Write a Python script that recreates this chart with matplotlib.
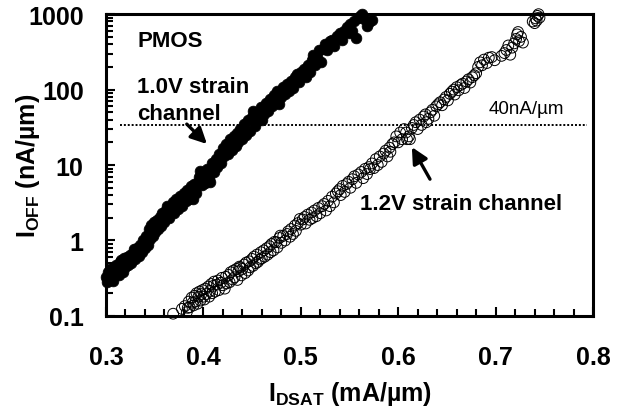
import matplotlib as mpl
import matplotlib.pyplot as plt
from matplotlib.ticker import MultipleLocator, FixedLocator, FixedFormatter, LogLocator, NullFormatter

mpl.rcParams['font.family'] = ['Liberation Sans', 'DejaVu Sans']
mpl.rcParams['mathtext.fontset'] = 'custom'
mpl.rcParams['mathtext.rm'] = 'Liberation Sans'
mpl.rcParams['mathtext.bf'] = 'Liberation Sans:bold'
mpl.rcParams['axes.linewidth'] = 2.2

# 1.0V strain channel (filled), IDSAT in mA/um, IOFF in nA/um
x10 = [0.300, 0.301, 0.302, 0.303, 0.304, 0.305, 0.306, 0.307, 0.308, 0.309,
       0.310, 0.311, 0.312, 0.313, 0.314, 0.315, 0.316, 0.317, 0.318, 0.319,
       0.320, 0.322, 0.323, 0.325, 0.326, 0.328, 0.329, 0.330, 0.332, 0.334,
       0.335, 0.337, 0.338, 0.340, 0.341, 0.343, 0.344, 0.345, 0.346, 0.348,
       0.349, 0.350, 0.352, 0.353, 0.355, 0.357, 0.358, 0.360, 0.362, 0.363,
       0.365, 0.367, 0.369, 0.370, 0.372, 0.374, 0.376, 0.378, 0.380, 0.382,
       0.383, 0.385, 0.387, 0.389, 0.390, 0.392, 0.394, 0.396, 0.397, 0.399,
       0.400, 0.402, 0.404, 0.406, 0.407, 0.409, 0.411, 0.413, 0.414, 0.416,
       0.418, 0.420, 0.421, 0.423, 0.425, 0.427, 0.429, 0.431, 0.433, 0.435,
       0.436, 0.438, 0.440, 0.442, 0.444, 0.446, 0.448, 0.450, 0.451, 0.453,
       0.455, 0.457, 0.459, 0.460, 0.462, 0.464, 0.466, 0.468, 0.470, 0.472,
       0.474, 0.476, 0.478, 0.480, 0.482, 0.484, 0.486, 0.488, 0.490, 0.492,
       0.494, 0.496, 0.498, 0.500, 0.503, 0.505, 0.507, 0.509, 0.511, 0.513,
       0.515, 0.517, 0.519, 0.521, 0.523, 0.525, 0.527, 0.530, 0.532, 0.534,
       0.537, 0.540, 0.542, 0.544, 0.547, 0.549, 0.551, 0.553, 0.555, 0.557,
       0.559, 0.561, 0.563, 0.565, 0.568, 0.570, 0.573]
y10 = [0.33, 0.28, 0.38, 0.30, 0.42, 0.33, 0.40, 0.29, 0.45, 0.35,
       0.48, 0.37, 0.44, 0.35, 0.52, 0.40, 0.55, 0.43, 0.38, 0.58,
       0.45, 0.60, 0.48, 0.64, 0.50, 0.68, 0.78, 0.56, 0.80, 0.62,
       0.88, 0.70, 1.00, 0.80, 1.15, 0.88, 1.40, 1.05, 1.60, 1.15,
       1.75, 1.30, 1.85, 1.40, 2.05, 1.55, 2.30, 1.75, 2.50, 2.90,
       2.0, 2.8, 3.2, 2.3, 3.5, 2.6, 3.9, 2.9, 4.3, 3.3,
       4.6, 3.6, 5.2, 3.5, 5.6, 4.2, 6.0, 7.0, 8.4, 5.4,
       7.5, 5.8, 8.8, 6.8, 5.9, 10.5, 8.0, 12, 9.5, 14,
       10.5, 17, 13, 19, 14, 22, 16, 24, 18, 27,
       20, 30, 22, 35, 25, 39, 28, 44, 52, 33,
       38, 50, 58, 40, 47, 66, 52, 74, 60, 85,
       68, 95, 64, 80, 108, 88, 118, 95, 130, 105,
       145, 160, 125, 170, 185, 145, 210, 170, 250, 290,
       210, 270, 330, 230, 350, 400, 330, 440, 460, 380,
       520, 560, 450, 600, 670, 570, 730, 600, 820, 490,
       900, 960, 1000, 850, 700, 780, 830]

# 1.2V strain channel (open)
x12 = [0.369, 0.378, 0.381, 0.383, 0.384, 0.385, 0.386, 0.388, 0.389, 0.390,
       0.391, 0.392, 0.393, 0.394, 0.395, 0.396, 0.397, 0.398, 0.399, 0.400,
       0.401, 0.402, 0.403, 0.405, 0.406, 0.407, 0.408, 0.409, 0.410, 0.411,
       0.412, 0.414, 0.415, 0.416, 0.418, 0.419, 0.420, 0.422, 0.423, 0.424,
       0.426, 0.427, 0.428, 0.430, 0.431, 0.432, 0.434, 0.435, 0.436, 0.437,
       0.438, 0.439, 0.440, 0.442, 0.443, 0.444, 0.446, 0.447, 0.448, 0.450,
       0.451, 0.452, 0.454, 0.455, 0.456, 0.458, 0.459, 0.460, 0.462, 0.463,
       0.465, 0.466, 0.468, 0.469, 0.470, 0.472, 0.473, 0.475, 0.476, 0.478,
       0.479, 0.480, 0.482, 0.484, 0.486, 0.487, 0.489, 0.490, 0.492, 0.494,
       0.495, 0.497, 0.499, 0.500, 0.502, 0.504, 0.505, 0.507, 0.509, 0.511,
       0.512, 0.514, 0.516, 0.518, 0.520, 0.522, 0.524, 0.526, 0.528, 0.530,
       0.532, 0.534, 0.536, 0.538, 0.540, 0.541, 0.543, 0.545, 0.547, 0.549,
       0.551, 0.553, 0.555, 0.557, 0.559, 0.562, 0.564, 0.566, 0.568, 0.570,
       0.571, 0.573, 0.575, 0.577, 0.579, 0.581, 0.583, 0.585, 0.587, 0.589,
       0.591, 0.592, 0.594, 0.596, 0.598, 0.600, 0.602, 0.604, 0.606, 0.608,
       0.609, 0.611, 0.612, 0.614, 0.616, 0.618, 0.620, 0.622, 0.624, 0.626,
       0.628, 0.629, 0.631, 0.633, 0.635, 0.637, 0.639, 0.641, 0.643, 0.645,
       0.647, 0.649, 0.651, 0.653, 0.655, 0.657, 0.658, 0.660, 0.662, 0.664,
       0.666, 0.668, 0.670, 0.672, 0.674, 0.676, 0.678, 0.680, 0.682, 0.684,
       0.686, 0.688, 0.691, 0.693, 0.696, 0.699, 0.706, 0.709, 0.711, 0.713,
       0.715, 0.717, 0.719, 0.721, 0.722, 0.723, 0.724, 0.726, 0.728, 0.738,
       0.740, 0.741, 0.742, 0.743, 0.744, 0.745]
y12 = [0.107, 0.124, 0.135, 0.112, 0.128, 0.155, 0.130, 0.175, 0.150, 0.138,
       0.185, 0.155, 0.200, 0.145, 0.180, 0.210, 0.160, 0.195, 0.220, 0.180,
       0.165, 0.230, 0.195, 0.245, 0.180, 0.215, 0.265, 0.200, 0.250, 0.285,
       0.210, 0.260, 0.295, 0.220, 0.275, 0.320, 0.255, 0.230, 0.330, 0.270,
       0.350, 0.280, 0.380, 0.305, 0.400, 0.325, 0.420, 0.300, 0.390, 0.450,
       0.440, 0.345, 0.420, 0.480, 0.370, 0.510, 0.400, 0.530, 0.440, 0.570,
       0.460, 0.610, 0.500, 0.650, 0.520, 0.560, 0.700, 0.580, 0.740, 0.610,
       0.790, 0.650, 0.840, 0.700, 0.900, 0.740, 0.960, 0.950, 0.810, 1.080,
       1.16, 0.93, 1.15, 1.00, 1.22, 1.32, 1.12, 1.42, 1.22, 1.58,
       1.34, 1.70, 1.93, 1.62, 1.90, 2.05, 1.68, 2.20, 1.88, 2.35,
       1.98, 2.50, 2.10, 2.70, 2.30, 2.85, 3.05, 2.50, 3.35, 2.85,
       3.8, 3.2, 4.2, 4.5, 4.8, 4.0, 5.3, 4.4, 5.6, 6.0,
       5.0, 6.5, 7.1, 5.8, 7.5, 8.1, 6.7, 8.9, 7.6, 9.4,
       8.85, 10.5, 9.1, 12.0, 10.0, 13.0, 11.0, 14.2, 15.5, 13.0,
       17.0, 15.0, 19, 20, 24, 20, 27, 22, 30, 27,
       22, 24, 22, 31, 34, 37, 30, 40, 34, 44,
       47, 37, 41, 50, 54, 45, 60, 64, 68, 62,
       74, 80, 72, 88, 94, 100, 86, 108, 98, 115,
       120, 105, 128, 137, 124, 146, 155, 165, 200, 230,
       210, 250, 225, 265, 270, 245, 280, 305, 335, 385,
       290, 360, 410, 470, 540, 580, 440, 500, 420, 800,
       760, 880, 820, 950, 1000, 900]

spec_level = 34
y_ticks = [0.1, 1, 10, 100, 1000]
y_ticklabels = ['0.1', '1', '10', '100', '1000']

fig = plt.figure(figsize=(6.23, 4.10), dpi=100)
ax = fig.add_axes((0.170, 0.227, 0.782, 0.736))

ax.scatter(x10, y10, s=60, c='k', edgecolors='k', linewidths=0.5, zorder=3, clip_on=False)
ax.scatter(x12, y12, s=60, facecolors='none', edgecolors='k', linewidths=0.7, zorder=3, clip_on=False)

ax.hlines(spec_level, 0.314, 0.794, colors='k', linestyles=(0, (1, 1)), linewidth=1.4)

ax.set_yscale('log')
ax.set_xlim(0.3, 0.8)
ax.set_ylim(0.1, 1000)

ax.xaxis.set_major_locator(MultipleLocator(0.1))
ax.xaxis.set_minor_locator(MultipleLocator(0.02))
ax.yaxis.set_major_locator(FixedLocator(y_ticks))
ax.yaxis.set_major_formatter(FixedFormatter(y_ticklabels))
ax.yaxis.set_minor_locator(LogLocator(base=10, subs=range(2, 10)))
ax.yaxis.set_minor_formatter(NullFormatter())

ax.tick_params(which='both', direction='in', top=False, right=False, width=1.5)
ax.tick_params(which='major', length=6.5, labelsize=18)
ax.tick_params(which='minor', length=5)
ax.tick_params(axis='x', pad=21)
ax.tick_params(axis='y', pad=16)
for lab in ax.get_xticklabels() + ax.get_yticklabels():
    lab.set_fontweight('bold')

ax.set_xlabel(r'$\mathbf{I_{DSAT}}$ (mA/µm)', fontsize=18, fontweight='bold')
ax.set_ylabel(r'$\mathbf{I_{OFF}}$ (nA/µm)', fontsize=18, fontweight='bold')
ax.xaxis.set_label_coords(0.5, -0.21)
ax.yaxis.set_label_coords(-0.131, 0.5)

ax.text(0.332, 380, 'PMOS', fontsize=16, fontweight='bold')
ax.text(0.332, 92, '1.0V strain', fontsize=16, fontweight='bold')
ax.text(0.332, 40.7, 'channel', fontsize=16, fontweight='bold')
ax.text(0.561, 2.61, '1.2V strain channel', fontsize=16, fontweight='bold')
ax.text(0.6925, 49, '40nA/µm', fontsize=13.5)

arrow = dict(arrowstyle='-|>', lw=2.4, mutation_scale=24, color='k', shrinkA=0, shrinkB=0)
ax.annotate('', xy=(0.4037, 19.0), xytext=(0.383, 34.9), arrowprops=arrow)
ax.annotate('', xy=(0.614, 17.3), xytext=(0.6326, 6.5), arrowprops=arrow)

fig.savefig('out.png', dpi=100)
